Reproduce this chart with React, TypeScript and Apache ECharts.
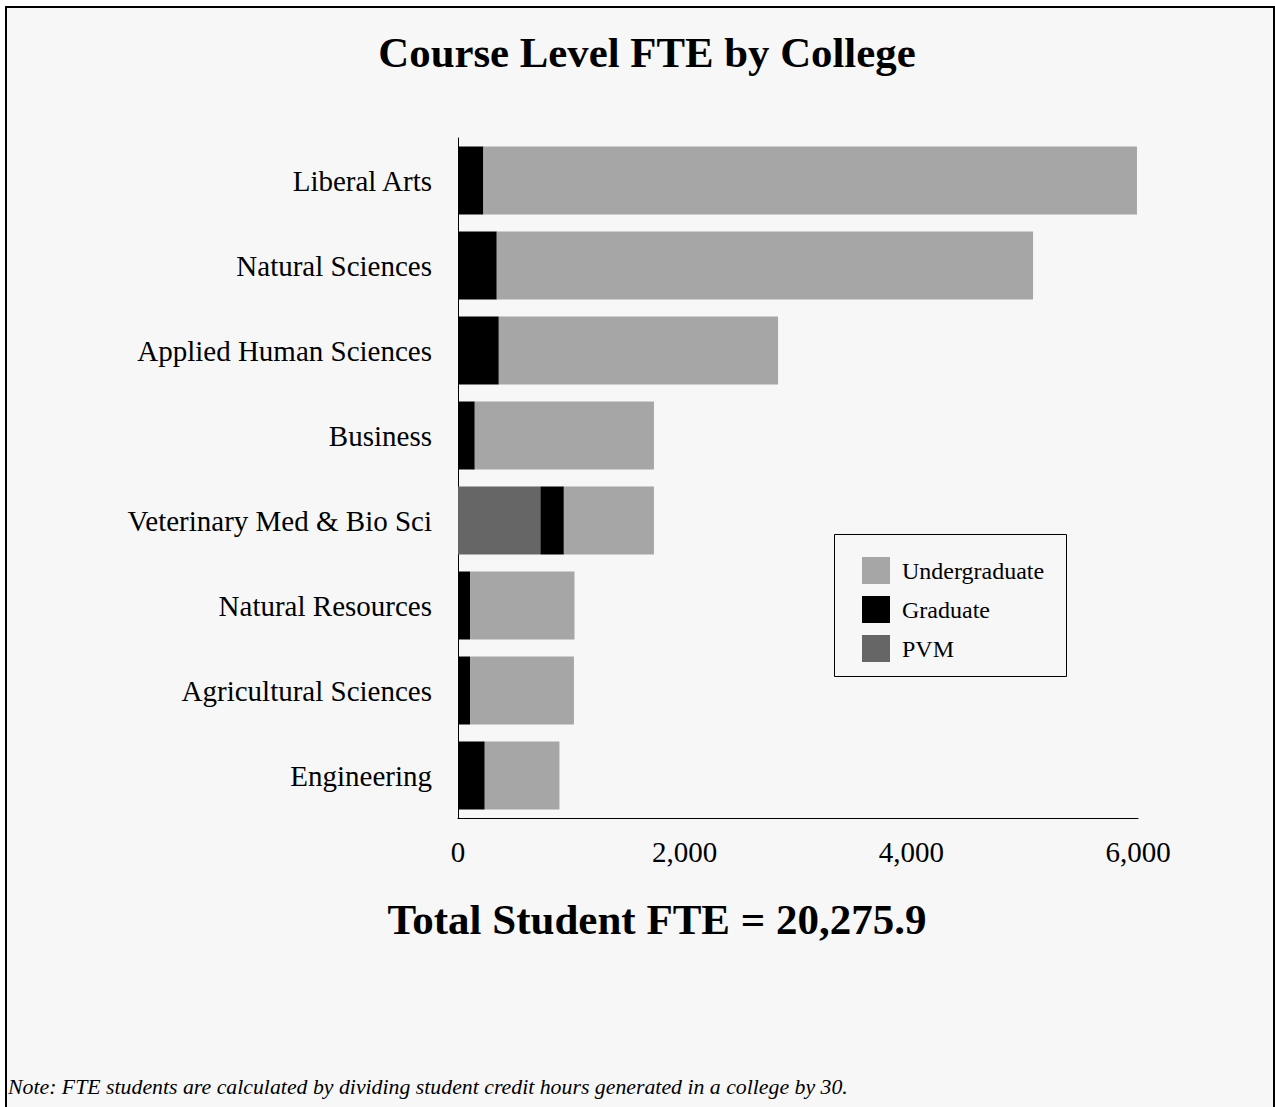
import React, { useEffect, useRef } from "react";
import * as echarts from "echarts";

const categories = [
  "Liberal Arts",
  "Natural Sciences",
  "Applied Human Sciences",
  "Business",
  "Veterinary Med & Bio Sci",
  "Natural Resources",
  "Agricultural Sciences",
  "Engineering",
];
const pvm = [0, 0, 0, 0, 727, 0, 0, 0];
const graduate = [224, 342, 360, 148, 207, 106, 106, 236];
const undergraduate = [5767, 4732, 2464, 1581, 795, 922, 917, 659];
const xTicks = { min: 0, max: 6000, interval: 2000 };

const FONT = "'Liberation Serif', 'Times New Roman', serif";

export default function App() {
  const ref = useRef<HTMLDivElement>(null);
  useEffect(() => {
    if (!ref.current) return;
    const chart = echarts.init(ref.current, null, { renderer: "svg" });
    const barCommon = {
      type: "bar" as const,
      stack: "fte",
      barCategoryGap: "20%",
    };
    chart.setOption({
      animation: false,
      backgroundColor: "#ffffff",
      textStyle: { fontFamily: FONT },
      graphic: [
        {
          type: "rect",
          z: -10,
          shape: { x: 6, y: 7, width: 1268, height: 1200 },
          style: { fill: "#f7f7f7", stroke: "#000", lineWidth: 2 },
          silent: true,
        },
        {
          type: "rect",
          z: 10,
          shape: { x: 834.5, y: 534.5, width: 232, height: 142 },
          style: { fill: "#f7f7f7", stroke: "#000", lineWidth: 1 },
          silent: true,
        },
        {
          type: "text",
          z: 20,
          x: 647,
          y: 52,
          style: {
            text: "Course Level FTE by College",
            fontFamily: FONT,
            fontSize: 42.8,
            fontWeight: "bold",
            fill: "#000",
            textAlign: "center",
            textVerticalAlign: "middle",
          },
        },
        {
          type: "text",
          z: 20,
          x: 657,
          y: 919,
          style: {
            text: "Total Student FTE = 20,275.9",
            fontFamily: FONT,
            fontSize: 43,
            fontWeight: "bold",
            fill: "#000",
            textAlign: "center",
            textVerticalAlign: "middle",
          },
        },
        {
          type: "text",
          z: 20,
          x: 8,
          y: 1087,
          style: {
            text: "Note: FTE students are calculated by dividing student credit hours generated in a college by 30.",
            fontFamily: FONT,
            fontSize: 21.8,
            fontStyle: "italic",
            fill: "#000",
            textAlign: "left",
            textVerticalAlign: "middle",
          },
        },
      ],
      legend: {
        data: ["Undergraduate", "Graduate", "PVM"],
        orient: "vertical",
        left: 862,
        top: 557,
        padding: 0,
        itemWidth: 28,
        itemHeight: 27,
        itemGap: 12,
        z: 20,
        icon: "rect",
        selectedMode: false,
        textStyle: { fontFamily: FONT, fontSize: 24, color: "#000", padding: [0, 0, 0, 7] },
      },
      grid: { left: 458, top: 138, width: 680, height: 680, containLabel: false },
      xAxis: {
        type: "value",
        min: xTicks.min,
        max: xTicks.max,
        interval: xTicks.interval,
        axisLine: { show: true, lineStyle: { color: "#000", width: 1 } },
        axisTick: { show: false },
        splitLine: { show: false },
        axisLabel: {
          fontFamily: FONT,
          fontSize: 29,
          color: "#000",
          margin: 19,
          formatter: (v: number) => v.toLocaleString("en-US"),
        },
      },
      yAxis: {
        type: "category",
        data: categories,
        inverse: true,
        axisLine: { show: true, lineStyle: { color: "#000", width: 1 } },
        axisTick: { show: false },
        axisLabel: { fontFamily: FONT, fontSize: 29, color: "#000", margin: 26 },
      },
      series: [
        { ...barCommon, name: "PVM", data: pvm, itemStyle: { color: "#666666" } },
        { ...barCommon, name: "Graduate", data: graduate, itemStyle: { color: "#000000" } },
        { ...barCommon, name: "Undergraduate", data: undergraduate, itemStyle: { color: "#a6a6a6" } },
      ],
    });
    return () => chart.dispose();
  }, []);
  return (
    <div
      ref={ref}
      style={{ position: "absolute", left: 0, top: 0, width: 1275, height: 1107 }}
    />
  );
}
